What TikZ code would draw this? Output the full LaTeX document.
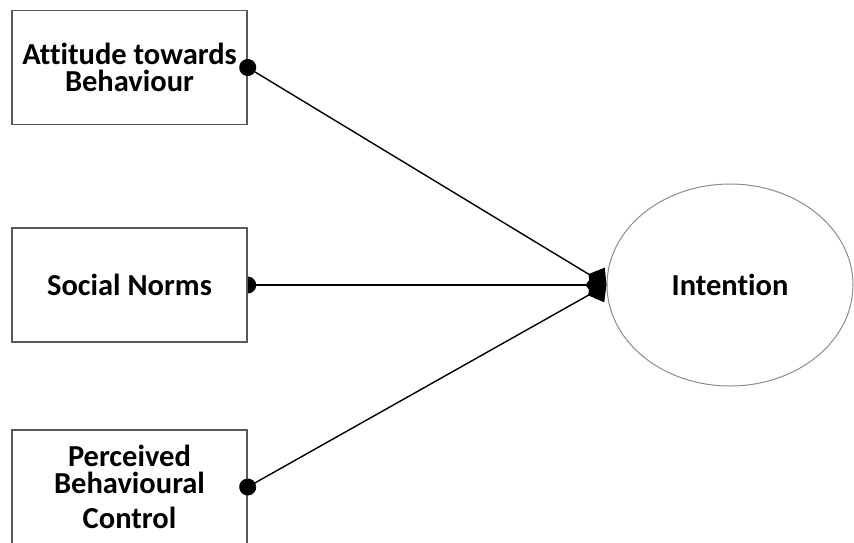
\documentclass[tikz,border=0pt]{standalone}
\usepackage{fontspec}
\setmainfont[Ligatures=NoCommon]{Carlito}
\usetikzlibrary{arrows.meta,shapes.geometric}
\pgfdeclarelayer{back}
\pgfsetlayers{back,main}
\begin{document}
\begin{tikzpicture}[x=1pt,y=-1pt,
  label font/.style={font=\bfseries\fontsize{30.5}{27}\selectfont},
  factor/.style={draw=black!65, line width=1.4pt, fill=white,
    minimum width=235pt, minimum height=114pt, inner sep=0pt,
    align=center, label font},
  outcome/.style={ellipse, draw=black!45, line width=1pt, fill=white,
    minimum width=246pt, minimum height=202pt, inner sep=0pt, label font},
  link/.style={line width=1.4pt,
    {Circle[length=17pt,width=17pt]}-{Diamond[length=21pt,width=28pt]},
    shorten <=-8.5pt}]
  \useasboundingbox (0,0) rectangle (854,542);

  % predictors
  \node[factor] (att) at (129.5,67.5) {Attitude towards\\Behaviour};
  \node[factor] (norms) at (129.5,285) {Social Norms};
  \node[factor] (pbc) at (129.5,487) {Perceived\\Behavioural\\[8pt]Control};

  % outcome
  \node[outcome] (int) at (730,285) {Intention};

  % paths into the outcome
  \draw[link] (att.east) -- (int.west);
  \draw[link] (pbc.east) -- (int.west);
  \begin{pgfonlayer}{back}
    \draw[link] (norms.east) -- (int.west);
  \end{pgfonlayer}
\end{tikzpicture}
\end{document}
